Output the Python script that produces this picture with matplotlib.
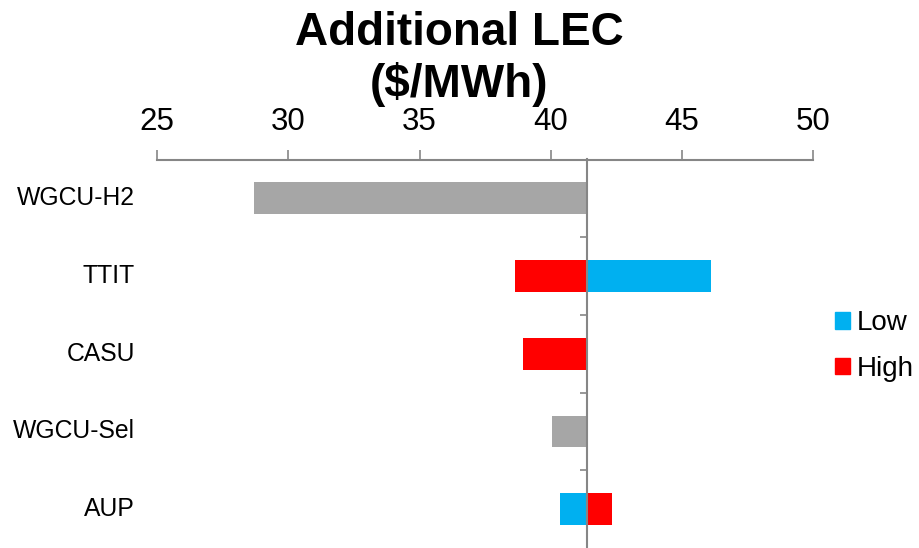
import matplotlib.pyplot as plt
from matplotlib.patches import Patch
from matplotlib.transforms import blended_transform_factory

plt.rcParams['font.family'] = ['Liberation Sans', 'DejaVu Sans']

# data
categories = ['WGCU-H2', 'TTIT', 'CASU', 'WGCU-Sel', 'AUP']
base = 41.4
low_vals = [None, 46.1, None, None, 40.35]
high_vals = [None, 38.65, 38.95, None, 42.33]
other_vals = [28.7, None, None, 40.05, None]
x_ticks = [25, 30, 35, 40, 45, 50]

blue = '#00B0F0'
red = '#FF0000'
grey = '#A6A6A6'
axis_col = '#868686'

fig = plt.figure(figsize=(9.19, 5.48), dpi=100)
ax = fig.add_axes([157.3 / 919, 0.0, (813 - 157.3) / 919, 1 - 159.5 / 548])

ypos = list(range(len(categories)))
bar_h = 0.41


def draw(vals, color):
    for y, v in zip(ypos, vals):
        if v is None:
            continue
        ax.barh(y, v - base, left=base, height=bar_h, color=color, zorder=2)


draw(other_vals, grey)
draw(high_vals, red)
draw(low_vals, blue)

ax.set_xlim(25, 50)
ax.set_ylim(len(categories) - 0.5, -0.5)
ax.xaxis.tick_top()
ax.set_xticks(x_ticks)
ax.tick_params(axis='x', direction='out', length=7, width=1.2, color=axis_col,
               labelsize=22.5, pad=9)

for s in ['bottom', 'right']:
    ax.spines[s].set_visible(False)
ax.spines['top'].set_color(axis_col)
ax.spines['top'].set_linewidth(1.5)
ax.spines['left'].set_position(('data', base))
ax.spines['left'].set_color(axis_col)
ax.spines['left'].set_linewidth(1.5)
ax.spines['left'].set_zorder(3)

ax.set_yticks([y + 0.5 for y in ypos[:-1]])
ax.tick_params(axis='y', direction='out', length=5, width=1.2, color=axis_col,
               labelleft=False)

trans = blended_transform_factory(ax.transAxes, ax.transData)
for y, c in zip(ypos, categories):
    ax.text(-0.034, y, c, transform=trans, ha='right', va='center', fontsize=17.8)

fig.text(0.5, 1 - 11 / 548, 'Additional LEC\n($/MWh)', ha='center', va='top',
         fontsize=33, fontweight='bold', linespacing=1.2)

handles = [Patch(color=blue, label='Low'), Patch(color=red, label='High')]
fig.legend(handles=handles, loc='center left', bbox_to_anchor=(810 / 919, 1 - 346 / 548),
           frameon=False, fontsize=20, handlelength=0.55, handleheight=0.55,
           handletextpad=0.25, labelspacing=0.7)

fig.savefig('out.png', dpi=100)
